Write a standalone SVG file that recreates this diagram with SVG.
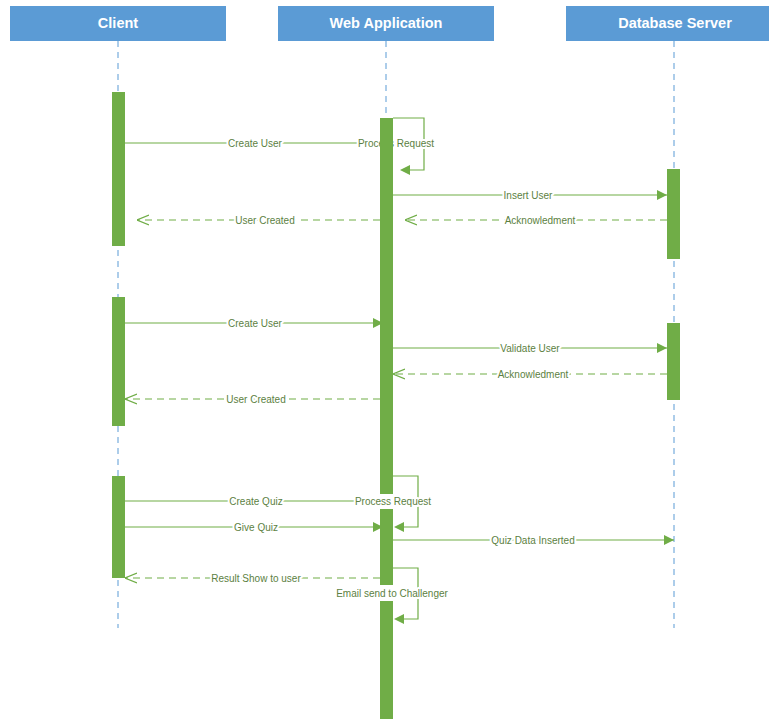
<svg xmlns="http://www.w3.org/2000/svg" width="769" height="719" viewBox="0 0 769 719">
<defs>
<style>
.hdr{fill:#5B9BD5}
.hdrt{font-family:"Liberation Sans",Arial,sans-serif;font-size:14.5px;font-weight:bold;fill:#fff;text-anchor:middle}
.life{stroke:#5B9BD5;stroke-width:1;stroke-dasharray:6 5;fill:none}
.bar{fill:#70AD47}
.msg{stroke:#70AD47;stroke-width:1.2;fill:none}
.ret{stroke:#70AD47;stroke-width:1.2;fill:none;stroke-dasharray:7 5}
.lbl{font-family:"Liberation Sans",Arial,sans-serif;font-size:10px;fill:#5C7F42;text-anchor:middle;stroke:#fff;stroke-width:4;paint-order:stroke;stroke-linejoin:round}
</style>
<marker id="fa" viewBox="0 0 10 10" refX="10" refY="5" markerWidth="10" markerHeight="10" markerUnits="userSpaceOnUse" orient="auto">
<path d="M0,0 L10,5 L0,10 Z" fill="#70AD47"/>
</marker>
<marker id="oa" viewBox="0 0 12 12" refX="12" refY="6" markerWidth="12" markerHeight="12" markerUnits="userSpaceOnUse" orient="auto">
<path d="M0,1 L12,6 L0,11" fill="none" stroke="#70AD47" stroke-width="1.2"/>
</marker>
</defs>
<rect width="769" height="719" fill="#fff"/>

<g id="client">
<rect class="hdr" x="10" y="6" width="216" height="35"/>
<text class="hdrt" x="118" y="28">Client</text>
<line class="life" x1="118" y1="41" x2="118" y2="628"/>
</g>
<g id="webapp">
<rect class="hdr" x="278" y="6" width="216" height="35"/>
<text class="hdrt" x="386" y="28">Web Application</text>
<line class="life" x1="386" y1="41" x2="386" y2="118"/>
</g>
<g id="dbserver">
<rect class="hdr" x="566" y="6" width="203" height="35"/>
<text class="hdrt" x="675" y="28">Database Server</text>
<line class="life" x1="674" y1="41" x2="674" y2="628"/>
</g>

<g id="connectors">
<line class="msg" x1="125" y1="143" x2="380" y2="143"/>
<text class="lbl" x="255" y="146.5">Create User</text>
<path class="msg" d="M393,118 H424 V170 H410"/>
<path d="M400,170 L410,165 L410,175 Z" fill="#70AD47"/>
<text class="lbl" x="396" y="146.5">Process Request</text>

<line class="msg" x1="393" y1="195" x2="667" y2="195" marker-end="url(#fa)"/>
<text class="lbl" x="528" y="198.5">Insert User</text>
<line class="ret" x1="380" y1="220" x2="137" y2="220" marker-end="url(#oa)"/>
<text class="lbl" x="265" y="223.5">User Created</text>
<line class="ret" x1="667" y1="220" x2="405" y2="220" marker-end="url(#oa)"/>
<text class="lbl" x="540" y="223.5">Acknowledment</text>

<line class="msg" x1="125" y1="323" x2="383" y2="323" marker-end="url(#fa)"/>
<text class="lbl" x="255" y="326.5">Create User</text>
<line class="msg" x1="393" y1="348" x2="667" y2="348" marker-end="url(#fa)"/>
<text class="lbl" x="530" y="351.5">Validate User</text>
<line class="ret" x1="667" y1="374" x2="393" y2="374" marker-end="url(#oa)"/>
<text class="lbl" x="533" y="377.5">Acknowledment</text>
<line class="ret" x1="380" y1="399" x2="125" y2="399" marker-end="url(#oa)"/>
<text class="lbl" x="256" y="402.5">User Created</text>

<line class="msg" x1="125" y1="501" x2="380" y2="501"/>
<text class="lbl" x="256" y="504.5">Create Quiz</text>
<path class="msg" d="M393,476 H418 V527 H404"/>
<path d="M394,527 L404,522 L404,532 Z" fill="#70AD47"/>
<text class="lbl" x="393" y="504.5">Process Request</text>
<line class="msg" x1="125" y1="527" x2="383" y2="527" marker-end="url(#fa)"/>
<text class="lbl" x="256" y="530.5">Give Quiz</text>
<line class="msg" x1="393" y1="540" x2="674" y2="540" marker-end="url(#fa)"/>
<text class="lbl" x="533" y="543.5">Quiz Data Inserted</text>
<line class="ret" x1="380" y1="578" x2="125" y2="578" marker-end="url(#oa)"/>
<text class="lbl" x="256" y="581.5">Result Show to user</text>
<path class="msg" d="M393,568 H418 V619 H404"/>
<path d="M394,619 L404,614 L404,624 Z" fill="#70AD47"/>
<text class="lbl" x="392" y="596.5">Email send to Challenger</text>
</g>

<g id="client-activations">
<rect class="bar" x="112" y="92" width="13" height="154"/>
<rect class="bar" x="112" y="297" width="13" height="129"/>
<rect class="bar" x="112" y="476" width="13" height="102"/>
</g>
<g id="webapp-activations">
<rect class="bar" x="380" y="118" width="13" height="376"/>
<rect class="bar" x="380" y="509" width="13" height="76"/>
<rect class="bar" x="380" y="601" width="13" height="118"/>
</g>
<g id="db-activations">
<rect class="bar" x="667" y="169" width="13" height="90"/>
<rect class="bar" x="667" y="323" width="13" height="77"/>
</g>
</svg>
